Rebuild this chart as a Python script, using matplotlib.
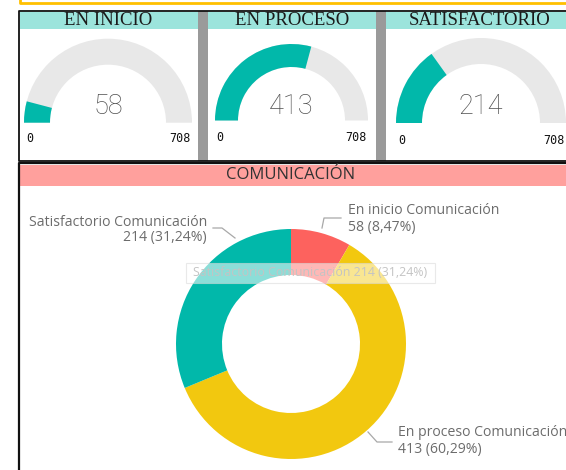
import matplotlib
matplotlib.use('Agg')
import matplotlib.pyplot as plt
from matplotlib.patches import Wedge, Rectangle

# ---------------- data ----------------
gauge_titles = ['EN INICIO', 'EN PROCESO', 'SATISFACTORIO']
gauge_values = [58, 413, 214]
gauge_min = 0
gauge_max = 708

donut_title = 'COMUNICACIÓN'
donut_categories = ['En inicio Comunicación', 'En proceso Comunicación', 'Satisfactorio Comunicación']
donut_values = [58, 413, 214]
donut_colors = ['#FD625E', '#F2C80F', '#01B8AA']
tooltip_index = 2

# ---------------- layout (pixel space, y measured from top) ----------------
W, H = 566, 470
fig = plt.figure(figsize=(W / 100, H / 100), dpi=100)
ax = fig.add_axes([0, 0, 1, 1])


def Y(y):
    return H - y


TEAL_HDR = '#9CE4DC'
SALMON = '#FFA09D'
GAUGE_FILL = '#01B8AA'
GAUGE_BG = '#E8E8E8'
SEP = '#9A9A9A'

# orange frame of the visual above
ax.plot([19.5, 19.5, W + 5], [Y(-5), Y(3), Y(3)], color='#FFC000', lw=2.0, solid_capstyle='butt')

# top panels
panel_x = [(20, 198), (208, 376), (386, W + 2)]
for (x0, x1) in panel_x:
    ax.add_patch(Rectangle((x0, Y(29)), x1 - x0, 17, facecolor=TEAL_HDR, edgecolor='none', zorder=1))
for (x0, x1) in [(198, 208), (376, 386)]:
    ax.add_patch(Rectangle((x0, Y(161)), x1 - x0, 150, facecolor=SEP, edgecolor='none', zorder=2))
# black outer border of the top row
ax.plot([W + 5, 18.8, 18.8, W + 5], [Y(10.8), Y(10.8), Y(160.8), Y(160.8)], color='#111111', lw=1.3, zorder=3)

gauge_cx = [108, 291.5, 481]
gauge_cy = [122.7, 120.5, 123]
gauge_ro = [84, 76.5, 85]
gauge_ri = [58, 53.5, 59]
title_cx = [108, 292, 480]
lab_y = [139, 137.5, 141]
lab_l = [26, 216, 398]

for i, v in enumerate(gauge_values):
    cx, cy, ro, ri = gauge_cx[i], Y(gauge_cy[i]), gauge_ro[i], gauge_ri[i]
    frac = (v - gauge_min) / (gauge_max - gauge_min)
    ax.add_patch(Wedge((cx, cy), ro, 0, 180, width=ro - ri, facecolor=GAUGE_BG, edgecolor='none', zorder=2))
    ax.add_patch(Wedge((cx, cy), ro, 180 - 180 * frac, 180, width=ro - ri, facecolor=GAUGE_FILL,
                       edgecolor='none', zorder=3))
    ax.text(cx, Y(107), f'{v}', ha='center', va='center', fontsize=19.5, color='#505050',
            family='Roboto', fontweight='light', zorder=4)
    ax.text(lab_l[i], Y(lab_y[i]), f'{gauge_min}', ha='left', va='center', fontsize=8.5,
            family='DejaVu Sans Mono', color='#111111', zorder=4)
    ax.text(cx + ro - 1, Y(lab_y[i]), f'{gauge_max}', ha='right', va='center', fontsize=8.5,
            family='DejaVu Sans Mono', color='#111111', zorder=4)
    ax.text(title_cx[i], Y(20.5), gauge_titles[i], ha='center', va='center', fontsize=13.5,
            family='Liberation Serif', color='#1a1a1a', zorder=4)

# bottom panel
ax.plot([W + 5, 19, 19, 19], [Y(163), Y(163), Y(163), Y(H + 5)], color='#111111', lw=1.6, zorder=3)
ax.add_patch(Rectangle((20, Y(186)), W - 20 + 2, 21.5, facecolor=SALMON, edgecolor='none', zorder=1))
ax.text(291, Y(175), donut_title, ha='center', va='center', fontsize=12, family='Open Sans',
        color='#333333', zorder=4)

# donut
dcx, dcy, dr, dri = 291, Y(344), 115, 69
ax.pie(donut_values, colors=donut_colors, startangle=90, counterclock=False, radius=dr,
       center=(dcx, dcy), wedgeprops=dict(width=dr - dri, edgecolor='none', zorder=2), frame=True)
ax.set_xlim(0, W)
ax.set_ylim(0, H)
ax.set_aspect('auto')
ax.axis('off')

total = sum(donut_values)
lbl_font = dict(family='Open Sans', fontsize=10.1, color='#6c6c6c', zorder=5)
leader = dict(color='#A8A8A8', lw=0.9, zorder=4)


def pct_text(v):
    return f'{v} ({100 * v / total:.2f}%)'.replace('.', ',')


# En inicio (right, top)
ax.plot([322, 324, 341], [Y(228), Y(218), Y(218)], **leader)
ax.text(348, Y(211), donut_categories[0], ha='left', va='center', **lbl_font)
ax.text(348, Y(227), pct_text(donut_values[0]), ha='left', va='center', **lbl_font)
# En proceso (right, bottom)
ax.plot([368, 377, 392], [Y(432), Y(442), Y(442)], **leader)
ax.text(398, Y(433), donut_categories[1], ha='left', va='center', **lbl_font)
ax.text(398, Y(450), pct_text(donut_values[1]), ha='left', va='center', **lbl_font)
# Satisfactorio (left, top)
ax.plot([213, 222, 235], [Y(228), Y(228), Y(238)], **leader)
ax.text(207, Y(222), donut_categories[2], ha='right', va='center', **lbl_font)
ax.text(207, Y(238), pct_text(donut_values[2]), ha='right', va='center', **lbl_font)

# hover tooltip
ax.add_patch(Rectangle((186, Y(283)), 249, 20, facecolor='white', alpha=0.55, edgecolor='#d8d8d8',
                       lw=0.8, zorder=6))
ax.text(310, Y(273), f'{donut_categories[tooltip_index]} {pct_text(donut_values[tooltip_index])}',
        ha='center', va='center', family='Open Sans', fontsize=8.9, color='#c4c4c4', zorder=7)

fig.savefig('out.png', dpi=100)
